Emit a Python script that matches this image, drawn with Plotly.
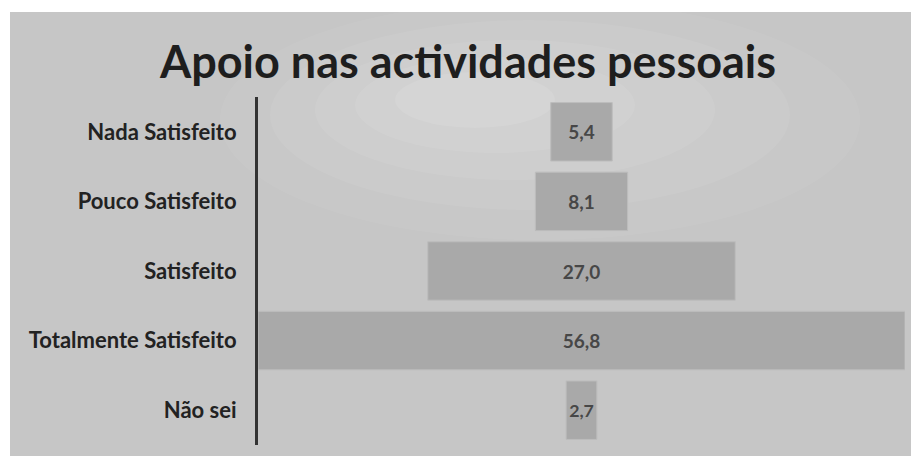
import plotly.graph_objects as go

categories = ["Nada Satisfeito", "Pouco Satisfeito", "Satisfeito", "Totalmente Satisfeito", "Não sei"]
values = [5.4, 8.1, 27.0, 56.8, 2.7]
title_text = "Apoio nas actividades pessoais"

W, H = 911, 456
L, R, T, B = 258, 6, 97, 11
PW, PH = W - L - R, H - T - B

def px_x(x):
    return (x - L) / PW

def px_y(y):
    return (H - B - y) / PH

FONT = "Lato, Open Sans, sans-serif"

fig = go.Figure()
fig.add_trace(go.Funnel(
    y=categories,
    x=values,
    texttemplate="%{x:.1f}",
    textposition="inside",
    insidetextanchor="middle",
    textfont=dict(family=FONT, size=19, color="#474747", weight="bold"),
    marker=dict(color="#a9a9a9", line=dict(color="#bdbdbd", width=1)),
    connector=dict(visible=False),
    hoverinfo="skip",
))

half = max(values) / 2
shapes = [
    dict(type="rect", xref="paper", yref="paper",
         x0=px_x(10), x1=px_x(W + 2), y0=px_y(H + 2), y1=px_y(12),
         fillcolor="#c6c6c6", line=dict(width=0), layer="below"),
]
# soft lighter patches of the scan (layered for a gentle gradient)
for (cx, cy, rx, ry, op) in [(540, 120, 320, 120, 0.05), (530, 115, 260, 95, 0.06),
                             (515, 110, 200, 70, 0.07), (495, 105, 140, 48, 0.08),
                             (475, 100, 80, 28, 0.09)]:
    shapes.append(dict(type="circle", xref="paper", yref="paper",
                       x0=px_x(cx - rx), x1=px_x(cx + rx),
                       y0=px_y(cy + ry), y1=px_y(cy - ry),
                       fillcolor="white", opacity=op, line=dict(width=0), layer="below"))

fig.update_layout(
    width=W, height=H,
    margin=dict(l=L, r=R, t=T, b=B),
    paper_bgcolor="white",
    plot_bgcolor="rgba(0,0,0,0)",
    separators=",.",
    funnelgap=0.16,
    showlegend=False,
    shapes=shapes,
    title=dict(text=title_text, x=468 / W, xanchor="center", xref="container",
               y=1 - 62 / H, yanchor="middle", yref="container",
               font=dict(family=FONT, size=45, color="#1e1e1e", weight="bold")),
    xaxis=dict(range=[-half, half], visible=False, fixedrange=True),
    yaxis=dict(showline=True, linecolor="#333333", linewidth=3, ticks="", showgrid=False,
               ticklabelstandoff=14, fixedrange=True,
               tickfont=dict(family=FONT, size=22, color="#222222", weight="bold")),
)

fig.write_html("out.html", config={"displayModeBar": False},
               post_script="document.body.style.margin='0';document.body.style.padding='0';")
